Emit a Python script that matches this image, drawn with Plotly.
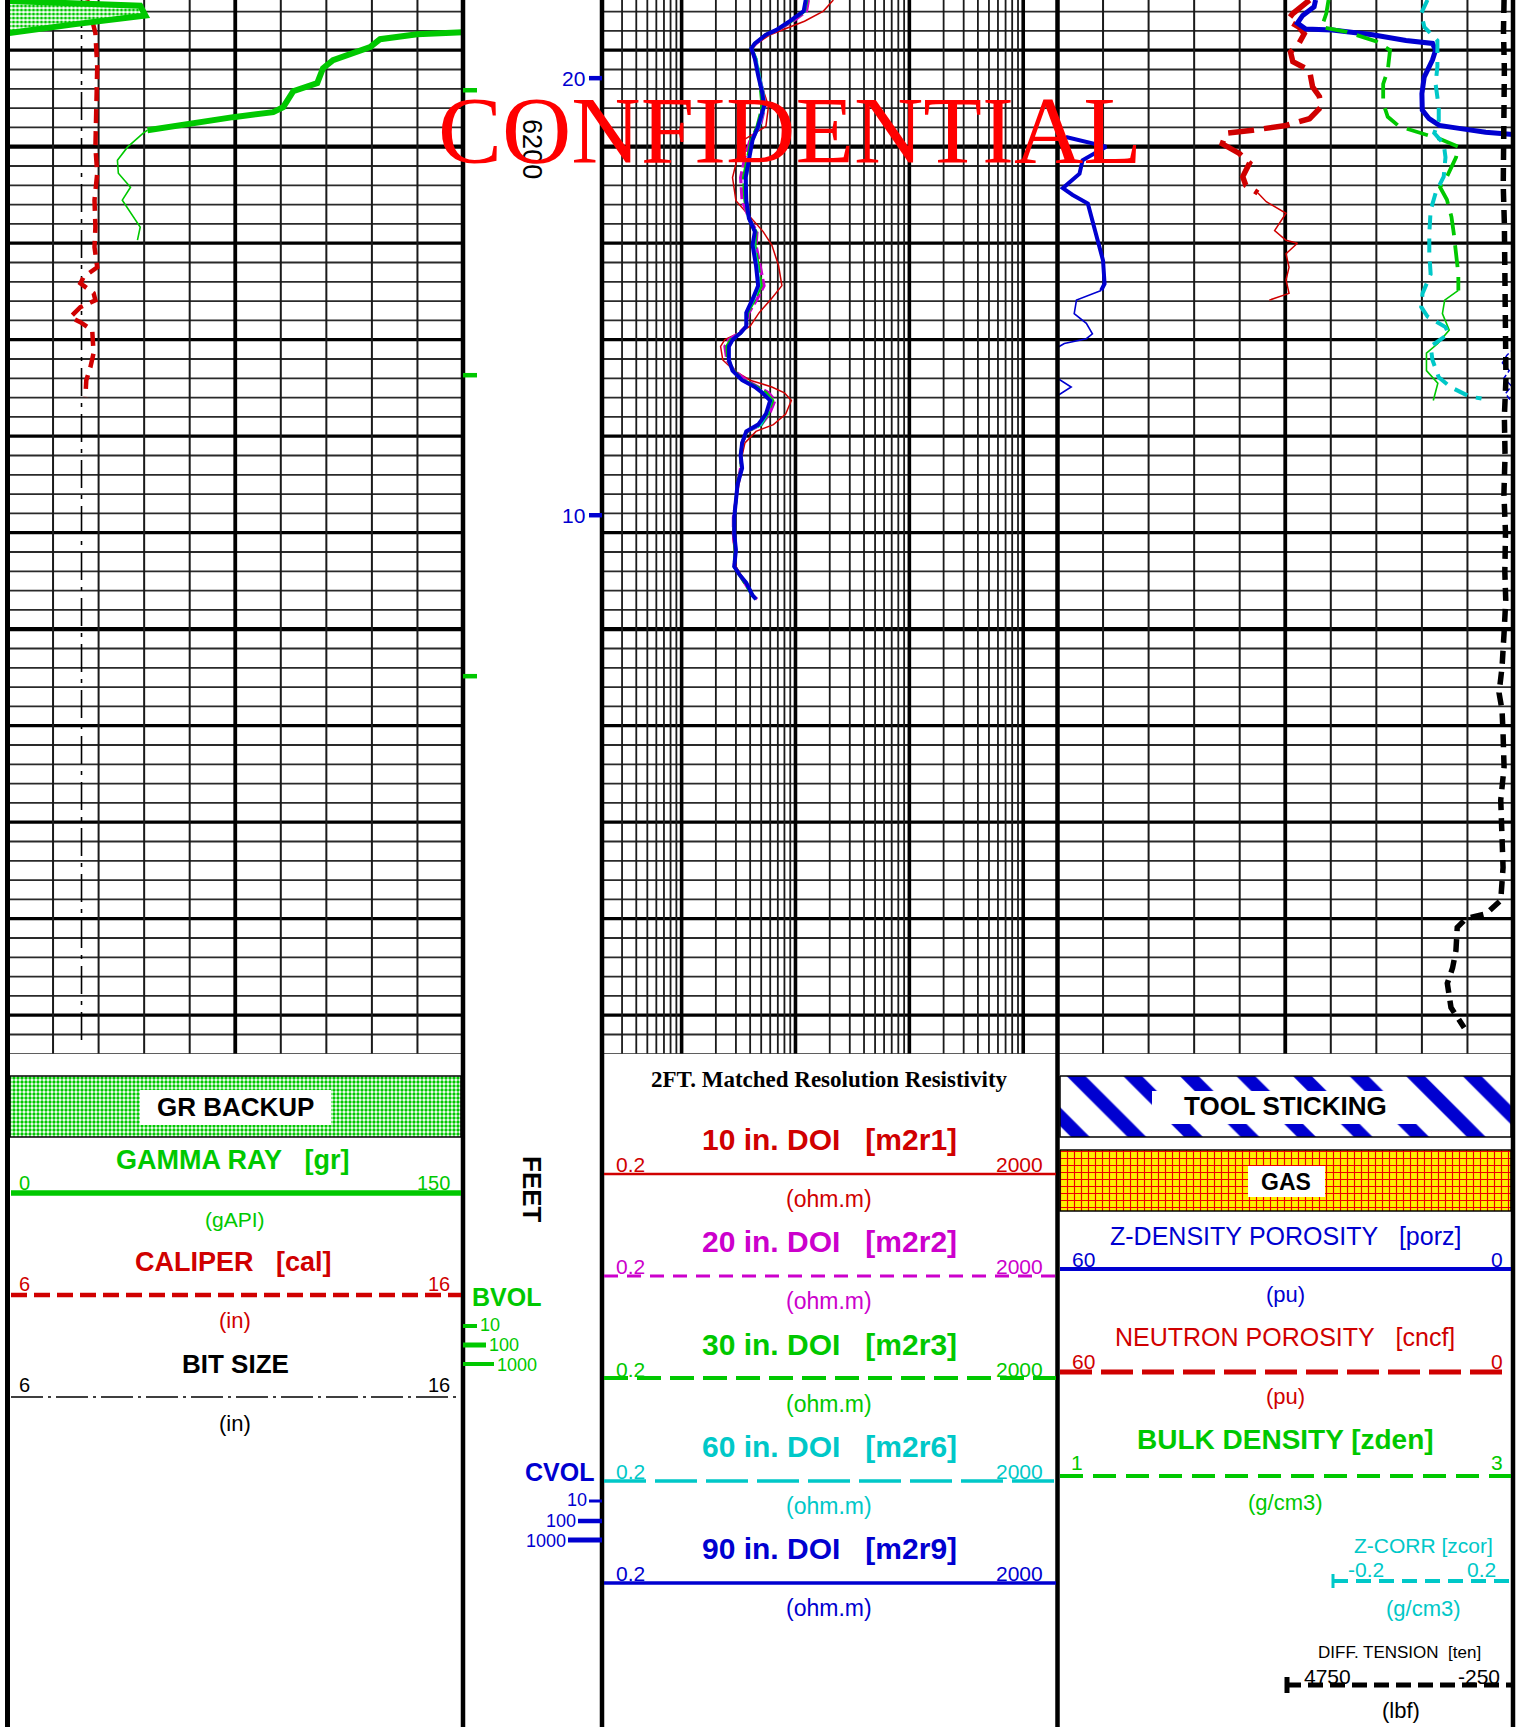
import math
import plotly.graph_objects as go

W, H = 1522, 1727

# ---------------- data ----------------
DEPTH_TOP = 6184.8
DEPTH_BOT = 6294.0
GRID_BOTTOM_PX = 1053.8
DEPTH_LABELS = [6200]

# Track 1 : gamma ray (0-150), backup (150-300), caliper / bit size (6-16)
GR_DEPTH = [6188.13, 6188.34, 6188.86, 6189.69, 6191.04, 6191.87, 6193.42, 6194.25,
            6195.91, 6196.42, 6196.94, 6197.56, 6198.29]
GR_VALUE = [150.0, 134.9, 122.7, 119.4, 107.2, 103.9, 102.0, 94.1, 90.8, 87.5, 74.3, 60.2, 46.1]
GR_TAIL_DEPTH = [6198.29, 6198.60, 6200.05, 6201.40, 6202.75, 6204.20, 6205.54, 6207.31, 6208.34, 6209.69]
GR_TAIL_VALUE = [46.1, 44.7, 39.5, 36.2, 36.5, 40.5, 37.8, 41.4, 43.7, 42.8]
GR_BACKUP_DEPTH = [6184.82, 6184.9, 6185.4, 6186.4, 6187.3, 6188.24]
GR_BACKUP_VALUE = [150.0, 151.0, 193.7, 195.4, 172.4, 150.0]

CAL_DEPTH = [6184.82, 6186.89, 6188.24, 6191.76, 6195.18, 6200.05, 6202.75, 6205.54, 6208.34,
             6210.41, 6212.49, 6213.52, 6214.15, 6215.18, 6215.91, 6216.63, 6217.67, 6218.19,
             6219.02, 6221.40, 6222.85, 6224.20, 6225.96]
CAL_VALUE = [7.75, 7.86, 7.93, 7.97, 7.95, 7.93, 7.97, 7.91, 7.93, 7.91, 7.97, 7.67, 7.60,
             7.89, 7.93, 7.60, 7.38, 7.60, 7.86, 7.89, 7.82, 7.73, 7.71]
BIT_SIZE = 7.625
BIT_DEPTH = [6184.8, 6292.6]

# BVOL / CVOL event marks
BVOL_DEPTH = [6194.15, 6223.68, 6254.87]
CVOL_DEPTH = [6192.9, 6238.19]
CVOL_LABEL = ["20", "10"]

# Resistivity track (0.2 - 2000 ohm.m, log)
RES_DEPTH = [6184.8, 6185.95, 6187.0, 6187.9, 6188.4, 6189.3, 6189.8, 6190.9, 6192.6, 6194.4,
             6195.8, 6197.9, 6199.3, 6201.1, 6203.2, 6205.6, 6207.4, 6208.8, 6210.2, 6212.3,
             6214.4, 6215.8, 6217.2, 6218.6, 6219.3, 6220.0, 6220.7, 6222.1, 6223.2, 6224.2,
             6224.9, 6225.5, 6226.3, 6227.7, 6228.8, 6229.5, 6230.7, 6232.0, 6233.3, 6235.0,
             6236.7, 6238.4, 6240.1, 6241.8, 6243.5, 6244.3, 6245.2, 6246.5, 6246.9]
M2R1 = [21.5, 17.6, 12.0, 7.5, 6.0, 4.6, 4.2, 4.5, 4.8, 5.3, 5.8, 5.5, 3.5, 3.1, 2.8, 3.0, 4.1,
        5.2, 6.2, 7.1, 7.6, 6.1, 4.8, 4.0, 3.2, 2.4, 2.2, 2.3, 2.9, 4.0, 6.2, 8.0, 9.2, 8.2, 6.4,
        4.5, 3.6, 3.4, 3.4, 3.2, 3.0, 2.9, 2.8, 2.9, 3.0, 3.3, 3.7, 4.2, 4.4]
M2R2 = [13.0, 12.5, 9.5, 7.0, 5.6, 4.5, 4.1, 4.4, 4.8, 5.2, 5.4, 4.9, 4.0, 3.6, 3.3, 3.4, 3.9,
        4.6, 4.5, 4.9, 5.3, 4.6, 3.9, 3.7, 3.2, 2.6, 2.4, 2.5, 2.9, 3.7, 4.8, 5.8, 6.6, 5.9, 5.0,
        3.8, 3.4, 3.3, 3.3, 3.1, 3.0, 2.85, 2.85, 2.95, 2.9, 3.2, 3.6, 4.2, 4.6]
M2R3 = [12.6, 12.0, 9.2, 6.9, 5.5, 4.4, 4.1, 4.5, 4.8, 5.0, 5.1, 4.6, 4.1, 3.8, 3.5, 3.6, 3.9,
        4.5, 4.4, 4.7, 5.0, 4.4, 3.8, 3.7, 3.3, 2.7, 2.5, 2.55, 2.85, 3.5, 4.6, 5.5, 6.3, 5.7, 5.0,
        3.75, 3.4, 3.3, 3.35, 3.1, 3.0, 2.9, 2.9, 2.95, 2.9, 3.2, 3.6, 4.2, 4.5]
M2R6 = [12.4, 11.9, 9.0, 6.8, 5.5, 4.4, 4.1, 4.5, 4.8, 5.2, 5.35, 4.8, 4.2, 3.9, 3.7, 3.7, 3.9,
        4.4, 4.3, 4.6, 4.8, 4.3, 3.7, 3.7, 3.3, 2.8, 2.6, 2.6, 2.8, 3.4, 4.5, 5.2, 6.1, 5.6, 4.95,
        3.7, 3.4, 3.3, 3.4, 3.1, 3.0, 2.9, 2.9, 3.0, 2.9, 3.2, 3.7, 4.2, 4.5]
M2R9 = [12.3, 11.8, 8.9, 6.8, 5.5, 4.4, 4.1, 4.4, 4.7, 5.1, 5.3, 4.7, 4.2, 3.9, 3.65, 3.7, 3.9,
        4.4, 4.2, 4.5, 4.7, 4.2, 3.7, 3.7, 3.3, 2.8, 2.6, 2.6, 2.8, 3.4, 4.4, 5.1, 6.0, 5.5, 4.7,
        3.7, 3.4, 3.3, 3.4, 3.1, 3.0, 2.9, 2.9, 3.0, 2.9, 3.2, 3.7, 4.2, 4.5]

# Porosity / density track
PORZ_DEPTH = [6184.8, 6185.5, 6186.4, 6187.2, 6187.8, 6187.9, 6188.4, 6189.0, 6189.3, 6190.0,
              6191.0, 6192.8, 6194.5, 6196.2, 6197.1, 6197.8, 6198.1, 6198.5, 6198.8]
PORZ_VALUE = [26.0, 26.2, 27.7, 28.4, 27.3, 23.8, 18.5, 14.1, 10.6, 10.2, 10.6, 11.7, 12.0,
              11.95, 11.05, 9.7, 7.1, 3.6, -0.8]
PORZ_BK_DEPTH = [6199.0, 6200.0, 6201.4, 6202.8, 6204.3, 6205.0, 6205.9, 6207.6, 6209.7, 6211.8,
                 6214.2, 6214.9]
PORZ_BK_VALUE = [-1.1, -6.4, -3.3, -2.9, -0.7, -2.0, -4.0, -4.6, -5.3, -6.0, -6.2, -5.75]
PORZ_BK_TAIL_DEPTH = [6214.9, 6215.9, 6217.3, 6218.3, 6219.4, 6219.9, 6220.4, 6220.9, 6223.9,
                      6224.9, 6225.9]
PORZ_BK_TAIL_VALUE = [-5.75, -2.5, -2.2, -3.8, -4.6, -3.8, -0.9, 0.2, 0.2, -1.8, 0.2]
PORZ_EDGE_DEPTH = [6220.8, 6221.6, 6222.4, 6223.2, 6224.0, 6224.8, 6225.6, 6226.2]
PORZ_EDGE_VALUE = [-0.3, 0.8, 1.4, 0.5, 1.2, 0.2, 1.0, 0.4]

CNCF_DEPTH = [6184.8, 6186.2, 6186.9, 6187.6, 6188.3, 6189.3, 6190.2, 6191.2, 6192.1, 6192.8,
              6193.8, 6194.8, 6195.9, 6197.1, 6197.8, 6198.3, 6198.6, 6199.7, 6200.7, 6201.7,
              6203.1, 6204.0, 6204.8]
CNCF_VALUE = [26.8, 29.0, 29.7, 28.2, 27.5, 28.2, 29.3, 29.0, 26.8, 26.6, 26.4, 25.5, 25.3,
              26.8, 29.9, 34.3, 37.8, 38.3, 36.05, 34.7, 35.6, 35.2, 33.6]
CNCF_TAIL_DEPTH = [6204.8, 6205.7, 6206.9, 6208.7, 6209.7, 6210.0, 6211.1, 6212.5, 6213.8,
                   6215.2, 6215.9]
CNCF_TAIL_VALUE = [33.6, 32.5, 29.9, 31.4, 29.9, 28.4, 29.9, 29.5, 29.9, 29.5, 32.1]

ZDEN_DEPTH = [6184.8, 6186.2, 6187.6, 6188.1, 6189.1, 6190.0, 6192.1, 6193.5, 6195.5, 6196.9,
              6197.9, 6198.6, 6199.2, 6200.0, 6201.1, 6203.1, 6204.2, 6205.5, 6207.3, 6209.0,
              6211.1, 6213.2, 6214.9]
ZDEN_VALUE = [2.19, 2.18, 2.16, 2.27, 2.40, 2.46, 2.45, 2.43, 2.43, 2.45, 2.50, 2.60, 2.68,
              2.76, 2.75, 2.71, 2.68, 2.71, 2.73, 2.74, 2.75, 2.76, 2.76]
ZDEN_TAIL_DEPTH = [6214.9, 6215.9, 6217.3, 6219.0, 6220.4, 6221.4, 6223.2, 6224.5, 6226.3]
ZDEN_TAIL_VALUE = [2.76, 2.70, 2.69, 2.72, 2.67, 2.62, 2.62, 2.67, 2.65]

ZCOR_DEPTH = [6184.8, 6186.2, 6187.6, 6189.0, 6191.7, 6193.5, 6195.9, 6197.3, 6198.6, 6199.7,
              6201.1, 6203.1, 6204.8, 6206.6, 6209.0, 6211.1, 6213.2, 6215.2, 6216.6, 6217.6,
              6218.7, 6219.4, 6220.7, 6222.1, 6223.9, 6224.9, 6225.9, 6226.1]
ZCOR_VALUE = [0.010, -0.004, 0.003, 0.032, 0.032, 0.028, 0.035, 0.035, 0.025, 0.046, 0.050,
              0.046, 0.028, 0.017, 0.014, 0.014, 0.017, -0.001, -0.004, 0.010, 0.050, 0.057,
              0.017, 0.021, 0.035, 0.061, 0.104, 0.130]

TEN_DEPTH = [6184.8, 6188.0, 6192.0, 6196.0, 6200.0, 6204.0, 6208.0, 6212.0, 6216.0, 6220.0,
             6224.0, 6228.0, 6232.0, 6236.0, 6240.0, 6244.0, 6247.0, 6250.4, 6253.9, 6256.6,
             6258.4, 6260.8, 6264.3, 6267.7, 6271.2, 6274.7, 6278.1, 6279.5, 6280.0, 6280.9,
             6283.3, 6285.1, 6286.7, 6289.2, 6291.3]
TEN_VALUE = [-53, -40, -60, -45, -55, -35, -60, -70, -50, -80, -95, -60, -75, -50, -85, -70,
             -90, -53, -9, 57, -9, -31, -53, 20, -15, -31, 20, 349, 787, 978, 1007, 1081, 1197,
             1116, 825]

# ---------------- layout constants (pixels) ----------------
T1 = (7.5, 463.0)
TR = (602.0, 1057.5)
T3 = (1057.5, 1513.0)
ZCOR_DOM = (1333.0, 1513.0)
TEN_DOM = (1286.0, 1513.0)

GREEN = "#00c800"
RED = "#d00000"
MAGENTA = "#cc00cc"
CYAN = "#00c8c8"
BLUE = "#0000d0"
BLACK = "#000000"
SANS = "Liberation Sans"
SERIF = "Liberation Serif"


def dom(a, b):
    return [a / W, b / W]


traces = []


def add_line(xs, ys, xa, color, width, dash="solid", ya="y"):
    traces.append(go.Scatter(x=xs, y=ys, xaxis=xa, yaxis=ya, mode="lines",
                             line=dict(color=color, width=width, dash=dash),
                             hoverinfo="skip", showlegend=False))


# ---------------- grids ----------------
grid_depths = list(range(6186, int(DEPTH_BOT) + 1, 2))


def h_grid(xa, x0, x1):
    thin_x, thin_y, thick_x, thick_y, heavy_x, heavy_y = [], [], [], [], [], []
    for d in grid_depths:
        if d % 50 == 0:
            heavy_x += [x0, x1, None]; heavy_y += [d, d, None]
        elif d % 10 == 0:
            thick_x += [x0, x1, None]; thick_y += [d, d, None]
        else:
            thin_x += [x0, x1, None]; thin_y += [d, d, None]
    add_line(thin_x, thin_y, xa, "#2a2a2a", 1.8)
    add_line(thick_x, thick_y, xa, BLACK, 3.2)
    add_line(heavy_x, heavy_y, xa, BLACK, 4.2)


def v_grid(xa, thin_vals, thick_vals, thin_w=2.0, thick_w=3.8):
    tx, ty, kx, ky = [], [], [], []
    for v in thin_vals:
        tx += [v, v, None]; ty += [DEPTH_TOP, DEPTH_BOT, None]
    for v in thick_vals:
        kx += [v, v, None]; ky += [DEPTH_TOP, DEPTH_BOT, None]
    add_line(tx, ty, xa, "#1a1a1a", thin_w)
    add_line(kx, ky, xa, BLACK, thick_w)


# track 1
h_grid("x", 0, 150)
v_grid("x", [15, 30, 45, 60, 90, 105, 120, 135], [75])
# resistivity
h_grid("x3", 0.2, 2000)
log_thin = [m / 10 for m in range(3, 10)] + [m for m in range(2, 10)] + \
           [m * 10 for m in range(2, 10)] + [m * 100 for m in range(2, 10)]
v_grid("x3", log_thin, [1, 10, 100, 1000], thin_w=1.8, thick_w=3.6)
# porosity track
h_grid("x4", 60, 0)
v_grid("x4", [54, 48, 42, 36, 24, 18, 12, 6], [30])

# ---------------- curves ----------------
# GR backup wedge with dotted fill
traces.append(go.Scatter(x=GR_BACKUP_VALUE, y=GR_BACKUP_DEPTH, xaxis="x10", yaxis="y",
                         mode="lines", fill="toself", fillcolor="white",
                         fillpattern=dict(shape=".", fgcolor=GREEN, bgcolor="white", size=4,
                                          solidity=0.5, fgopacity=1),
                         line=dict(color=GREEN, width=6), hoverinfo="skip", showlegend=False))
add_line(GR_VALUE, GR_DEPTH, "x", GREEN, 6)
add_line(GR_TAIL_VALUE, GR_TAIL_DEPTH, "x", GREEN, 1.6)
add_line([BIT_SIZE, BIT_SIZE], BIT_DEPTH, "x2", BLACK, 1.6, "28px,7px,4px,7px")
add_line(CAL_VALUE, CAL_DEPTH, "x2", RED, 4.5, "14px,8px")

# resistivity
add_line(M2R1, RES_DEPTH, "x3", RED, 1.5)
add_line(M2R2, RES_DEPTH, "x3", MAGENTA, 3.2, "12px,4px")
add_line(M2R3, RES_DEPTH, "x3", GREEN, 3.2, "20px,4px")
add_line(M2R6, RES_DEPTH, "x3", CYAN, 3.0)
add_line(M2R9, RES_DEPTH, "x3", BLUE, 4.0)

# right track
add_line(ZCOR_VALUE, ZCOR_DEPTH, "x6", CYAN, 4, "14px,9px")
add_line(ZDEN_VALUE, ZDEN_DEPTH, "x5", GREEN, 3.8, "22px,10px")
add_line(ZDEN_TAIL_VALUE, ZDEN_TAIL_DEPTH, "x5", GREEN, 1.6)
add_line(CNCF_VALUE, CNCF_DEPTH, "x4", RED, 5.5, "26px,10px")
add_line(CNCF_TAIL_VALUE, CNCF_TAIL_DEPTH, "x4", RED, 1.5)
add_line(PORZ_VALUE, PORZ_DEPTH, "x4", BLUE, 5)
add_line(PORZ_EDGE_VALUE, PORZ_EDGE_DEPTH, "x4", BLUE, 1.5, "6px,3px")
add_line(PORZ_BK_VALUE, PORZ_BK_DEPTH, "x8", BLUE, 4)
add_line(PORZ_BK_TAIL_VALUE, PORZ_BK_TAIL_DEPTH, "x8", BLUE, 1.6)
add_line(TEN_VALUE, TEN_DEPTH, "x7", BLACK, 5.5, "13px,8px")


# ---------------- header pattern boxes (pixel axes) ----------------
def pattern_box(x0, x1, y0, y1, pattern, bg):
    traces.append(go.Scatter(x=[x0, x1, x1, x0, x0], y=[y0, y0, y1, y1, y0], xaxis="x9", yaxis="y9",
                             mode="lines", fill="toself", fillcolor=bg, fillpattern=pattern,
                             line=dict(color=BLACK, width=1.5), hoverinfo="skip", showlegend=False))


pattern_box(10, 461, 1076, 1137,
            dict(shape=".", fgcolor=GREEN, bgcolor="white", size=4, solidity=0.55, fgopacity=1), "white")
pattern_box(1060, 1511, 1076, 1137,
            dict(shape="\\", fgcolor=BLUE, bgcolor="white", size=40, solidity=0.33, fgopacity=1), "white")
pattern_box(1060, 1511, 1150, 1211,
            dict(shape="+", fgcolor="#ee0000", bgcolor="#ffee00", size=7, solidity=0.3, fgopacity=1), "#ffee00")

shapes = []


def px_line(x0, x1, y0, y1, color, width, dash="solid"):
    shapes.append(dict(type="line", xref="x9", yref="y9", x0=x0, x1=x1, y0=y0, y1=y1,
                       line=dict(color=color, width=width, dash=dash)))


def white_rect(x0, x1, y0, y1):
    shapes.append(dict(type="rect", xref="x9", yref="y9", x0=x0, x1=x1, y0=y0, y1=y1,
                       fillcolor="white", line=dict(width=0)))


white_rect(140, 331, 1090, 1125)
white_rect(1152, 1420, 1091, 1124)
white_rect(1248, 1325, 1166, 1197)

# track borders (full height)
for x, w in [(T1[0], 5), (T1[1], 4.5), (TR[0], 4.5), (TR[1], 4.5), (T3[1], 4.5)]:
    px_line(x, x, 0, H, BLACK, w)

# legend scale lines
px_line(11, 461, 1193, 1193, GREEN, 5.5)
px_line(11, 461, 1295, 1295, RED, 4.5, "16px,7px")
px_line(11, 461, 1397, 1397, BLACK, 1.6, "32px,5px,3px,5px")
px_line(604, 1056, 1174, 1174, RED, 2.5)
px_line(604, 1056, 1276, 1276, MAGENTA, 3.2, "14px,9px")
px_line(604, 1056, 1378, 1378, GREEN, 4, "24px,9px")
px_line(604, 1056, 1481, 1481, CYAN, 3.5, "42px,9px")
px_line(604, 1056, 1583, 1583, BLUE, 3.5)
px_line(1060, 1511, 1269, 1269, BLUE, 4)
px_line(1060, 1511, 1372, 1372, RED, 5, "32px,9px")
px_line(1060, 1511, 1476, 1476, GREEN, 4, "23px,10px")
px_line(1333, 1511, 1581, 1581, CYAN, 4, "15px,8px")
px_line(1333, 1333, 1574, 1588, CYAN, 3)
px_line(1286, 1511, 1685, 1685, BLACK, 5, "15px,7px")
px_line(1287, 1287, 1677, 1693, BLACK, 5)

# BVOL / CVOL legend ticks
px_line(463, 477, 1326, 1326, GREEN, 4)
px_line(463, 486, 1345, 1345, GREEN, 5)
px_line(463, 494, 1364, 1364, GREEN, 4)
px_line(589, 602, 1501, 1501, BLUE, 3)
px_line(578, 602, 1521, 1521, BLUE, 4.5)
px_line(568, 602, 1540, 1540, BLUE, 5)

# depth-referenced event ticks
for d in BVOL_DEPTH:
    shapes.append(dict(type="line", xref="x9", yref="y", x0=463, x1=477, y0=d, y1=d,
                       line=dict(color=GREEN, width=4.5)))
for d in CVOL_DEPTH:
    shapes.append(dict(type="line", xref="x9", yref="y", x0=589, x1=602, y0=d, y1=d,
                       line=dict(color=BLUE, width=4.5)))

# ---------------- text ----------------
annotations = []
NB = "\u00a0"


def label(text, x, y, size, color, bold=False, family=SANS, angle=0, xanchor="center", yref="y9"):
    t = "<b>" + text + "</b>" if bold else text
    annotations.append(dict(text=t, x=x, y=y, xref="x9", yref=yref, showarrow=False,
                            font=dict(family=family, size=size, color=color),
                            xanchor=xanchor, yanchor="middle", textangle=angle))


# depth track
for d in DEPTH_LABELS:
    label(str(d), 532, d + 0.25, 27, BLACK, angle=90, yref="y")
for d, t in zip(CVOL_DEPTH, CVOL_LABEL):
    label(t, 587, d, 21, BLUE, xanchor="right", yref="y")

# track 1 header
label("GR BACKUP", 235, 1107, 26, BLACK, bold=True)
label("GAMMA RAY" + NB * 3 + "[gr]", 233, 1160, 27, GREEN, bold=True)
label("0", 24, 1183, 20, GREEN)
label("150", 433, 1183, 20, GREEN)
label("(gAPI)", 235, 1219, 21, GREEN)
label("CALIPER" + NB * 3 + "[cal]", 233, 1262, 27, RED, bold=True)
label("6", 24, 1284, 20, RED)
label("16", 439, 1284, 20, RED)
label("(in)", 235, 1320, 22, RED)
label("BIT SIZE", 235, 1364, 26, BLACK, bold=True)
label("6", 24, 1385, 20, BLACK)
label("16", 439, 1385, 20, BLACK)
label("(in)", 235, 1423, 22, BLACK)

# depth track header
label("FEET", 532, 1189, 26, BLACK, bold=True, angle=90)
label("BVOL", 506, 1297, 25, GREEN, bold=True)
label("10", 478, 1325, 18, GREEN, xanchor="left")
label("100", 487, 1345, 18, GREEN, xanchor="left")
label("1000", 495, 1365, 18, GREEN, xanchor="left")
label("CVOL", 559, 1472, 25, BLUE, bold=True)
label("10", 589, 1500, 18, BLUE, xanchor="right")
label("100", 578, 1521, 18, BLUE, xanchor="right")
label("1000", 568, 1541, 18, BLUE, xanchor="right")

# resistivity header
label("2FT. Matched Resolution Resistivity", 829, 1079, 23, BLACK, bold=True, family=SERIF)
res_blocks = [("10", "m2r1", RED, 1139), ("20", "m2r2", MAGENTA, 1241), ("30", "m2r3", GREEN, 1344),
              ("60", "m2r6", CYAN, 1446), ("90", "m2r9", BLUE, 1548)]
for doi, mn, col, yy in res_blocks:
    label(doi + " in. DOI" + NB * 3 + "[" + mn + "]", 829, yy, 30, col, bold=True)
    label("0.2", 630, yy + 25, 21, col)
    label("2000", 1019, yy + 25, 21, col)
    label("(ohm.m)", 829, yy + 60, 23, col)

# right header
label("TOOL STICKING", 1285, 1106, 26, BLACK, bold=True)
label("GAS", 1286, 1182, 23, BLACK, bold=True)
label("Z-DENSITY" + NB + "POROSITY" + NB * 3 + "[porz]", 1285, 1236, 25, BLUE)
label("60", 1083, 1259, 21, BLUE)
label("0", 1497, 1259, 21, BLUE)
label("(pu)", 1285, 1294, 22, BLUE)
label("NEUTRON" + NB + "POROSITY" + NB * 3 + "[cncf]", 1285, 1337, 25, RED)
label("60", 1083, 1361, 21, RED)
label("0", 1497, 1361, 21, RED)
label("(pu)", 1285, 1396, 22, RED)
label("BULK DENSITY [zden]", 1285, 1439, 28, GREEN, bold=True)
label("1", 1077, 1462, 21, GREEN)
label("3", 1497, 1462, 21, GREEN)
label("(g/cm3)", 1285, 1502, 22, GREEN)
label("Z-CORR [zcor]", 1423, 1545, 21, CYAN)
label("-0.2", 1366, 1569, 21, CYAN)
label("0.2", 1481, 1569, 21, CYAN)
label("(g/cm3)", 1423, 1608, 22, CYAN)
label("DIFF. TENSION" + NB * 2 + "[ten]", 1399, 1652, 17, BLACK)
label("4750", 1327, 1676, 21, BLACK)
label("-250", 1479, 1676, 21, BLACK)
label("(lbf)", 1401, 1710, 22, BLACK)

# watermark
label("CONFIDENTIAL", 790, 130, 96, "#ff0000", family=SERIF)

# ---------------- figure ----------------
fig = go.Figure(data=traces)
ydom = [1 - GRID_BOTTOM_PX / H, 1]
hidden = dict(visible=False, showgrid=False, zeroline=False, fixedrange=True)
fig.update_layout(
    width=W, height=H, margin=dict(l=0, r=0, t=0, b=0, pad=0),
    paper_bgcolor="white", plot_bgcolor="rgba(0,0,0,0)", showlegend=False,
    xaxis=dict(domain=dom(*T1), range=[0, 150], anchor="y", **hidden),
    xaxis2=dict(overlaying="x", range=[6, 16], anchor="y", **hidden),
    xaxis10=dict(overlaying="x", range=[150, 300], anchor="y", **hidden),
    xaxis3=dict(domain=dom(*TR), type="log", range=[math.log10(0.2), math.log10(2000)], anchor="y", **hidden),
    xaxis4=dict(domain=dom(*T3), range=[60, 0], anchor="y", **hidden),
    xaxis5=dict(overlaying="x4", range=[1, 3], anchor="y", **hidden),
    xaxis8=dict(overlaying="x4", range=[0, -60], anchor="y", **hidden),
    xaxis6=dict(domain=dom(*ZCOR_DOM), range=[-0.2, 0.2], anchor="y", **hidden),
    xaxis7=dict(domain=dom(*TEN_DOM), range=[4750, -250], anchor="y", **hidden),
    xaxis9=dict(domain=[0, 1], range=[0, W], anchor="y9", **hidden),
    yaxis=dict(domain=ydom, range=[DEPTH_BOT, DEPTH_TOP], anchor="x", **hidden),
    yaxis9=dict(domain=[0, 1], range=[H, 0], anchor="x9", **hidden),
    shapes=shapes,
    annotations=annotations,
)
fig.write_html("out.html",
               config={"displayModeBar": False},
               post_script="document.body.style.margin='0px';document.body.style.padding='0px';"
                           "document.body.style.overflow='hidden';")
